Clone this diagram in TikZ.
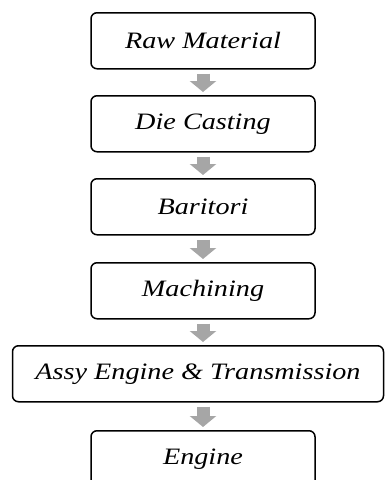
\documentclass[tikz,border=0pt]{standalone}
\usepackage{fontspec}
\setmainfont{Liberation Serif}
\usetikzlibrary{arrows.meta}
\tikzset{
  stepbox/.style={draw=black, line width=1.5pt, rounded corners=6pt, fill=white,
    minimum height=56pt, inner sep=0pt, anchor=north,
    font=\fontsize{23.5}{27}\selectfont\itshape},
  flowarrow/.style={draw=arrowgray, line width=13pt,
    -{Triangle[width=26pt,length=11pt]}, shorten <=4pt, shorten >=3pt}
}
\definecolor{arrowgray}{HTML}{A6A6A6}
\newcommand{\wide}[1]{\scalebox{1.2}[1]{#1}}
\begin{document}
\begin{tikzpicture}[x=1pt,y=1pt]
\useasboundingbox (0,0) rectangle (385,-480);
\clip (0,0) rectangle (385,-480);
\node[stepbox, minimum width=224pt] (raw) at (203,-12) {\wide{Raw Material}};
\node[stepbox, minimum width=224pt] (die) at (203,-95) {\wide{Die Casting}};
\node[stepbox, minimum width=224pt] (bar) at (203,-178) {\wide{Baritori}};
\node[stepbox, minimum width=224pt] (mac) at (203,-262) {\wide{Machining}};
\node[stepbox, minimum width=371pt] (assy) at (198,-345) {\wide{Assy Engine \& Transmission}};
\node[stepbox, minimum width=224pt] (eng) at (203,-430) {\wide{Engine}};
\draw[flowarrow] (raw.south) -- (die.north);
\draw[flowarrow] (die.south) -- (bar.north);
\draw[flowarrow] (bar.south) -- (mac.north);
\draw[flowarrow] (mac.south) -- (mac.south |- assy.north);
\draw[flowarrow] (mac.south |- assy.south) -- (eng.north);
\end{tikzpicture}
\end{document}
